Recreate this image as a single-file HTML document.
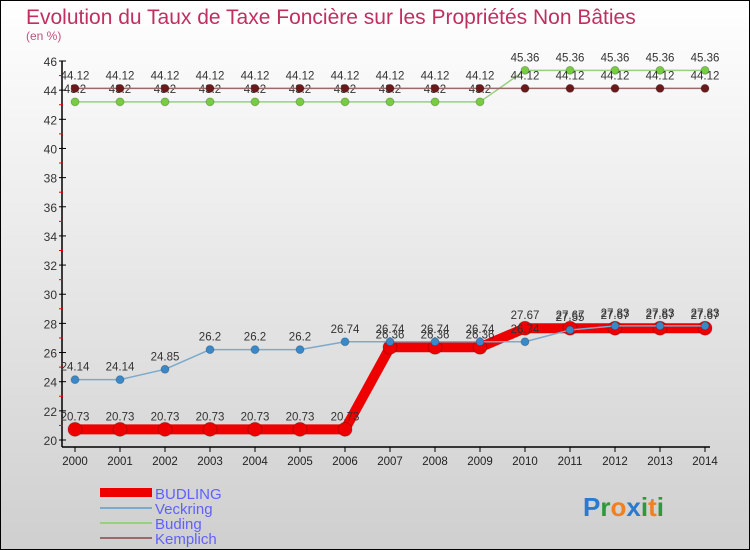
<!DOCTYPE html>
<html><head><meta charset="utf-8"><style>
body{margin:0;}
svg{display:block;font-family:"Liberation Sans",sans-serif;}
</style></head><body>
<svg id="c" width="750" height="550" xmlns="http://www.w3.org/2000/svg">
<defs><linearGradient id="bg" x1="0" y1="0" x2="0" y2="1"><stop offset="0" stop-color="#ffffff"/><stop offset="1" stop-color="#cfcfcf"/></linearGradient></defs>
<rect x="0" y="0" width="750" height="550" fill="url(#bg)" stroke="#000" stroke-width="2"/>
<text x="26" y="24" font-size="21" fill="#c0305e">Evolution du Taux de Taxe Foncière sur les Propriétés Non Bâties</text>
<text x="26" y="40" font-size="12" fill="#c0507e">(en %)</text>
<g id="axes"></g><g id="series"></g>
<g>
<rect x="100" y="488" width="52" height="9" fill="#e00"/>
<text x="155" y="499" font-size="15" fill="#6060ff">BUDLING</text>
<line x1="100" y1="508" x2="152" y2="508" stroke="#7aaacc" stroke-width="2"/>
<text x="155" y="514" font-size="15" fill="#6060ff">Veckring</text>
<line x1="100" y1="523" x2="152" y2="523" stroke="#99d080" stroke-width="2"/>
<text x="155" y="529" font-size="15" fill="#6060ff">Buding</text>
<line x1="100" y1="538" x2="152" y2="538" stroke="#9a6a6a" stroke-width="2"/>
<text x="155" y="544" font-size="15" fill="#6060ff">Kemplich</text>
</g>
<text x="583" y="516" font-size="26" font-weight="bold"><tspan fill="#2a7ad0">P</tspan><tspan fill="#2a9a3a">r</tspan><tspan fill="#f08020">o</tspan><tspan fill="#2a7ad0">x</tspan><tspan fill="#2a9a3a">i</tspan><tspan fill="#f08020">t</tspan><tspan fill="#2a9a3a">i</tspan></text>
</svg>
<script>
const years=[2000,2001,2002,2003,2004,2005,2006,2007,2008,2009,2010,2011,2012,2013,2014];
const budling=[20.73,20.73,20.73,20.73,20.73,20.73,20.73,26.36,26.36,26.36,27.67,27.67,27.67,27.67,27.67];
const veckring=[24.14,24.14,24.85,26.2,26.2,26.2,26.74,26.74,26.74,26.74,26.74,27.55,27.83,27.83,27.83];
const buding=[43.2,43.2,43.2,43.2,43.2,43.2,43.2,43.2,43.2,43.2,45.36,45.36,45.36,45.36,45.36];
const kemplich=[44.12,44.12,44.12,44.12,44.12,44.12,44.12,44.12,44.12,44.12,44.12,44.12,44.12,44.12,44.12];
const yTicks=[20,22,24,26,28,30,32,34,36,38,40,42,44,46];
const NS="http://www.w3.org/2000/svg";
const x=i=>75+i*45;
const y=v=>440-(v-20)*(379/26);
function mk(p,t,a){const e=document.createElementNS(NS,t);for(const k in a)e.setAttribute(k,a[k]);p.appendChild(e);return e;}
const ax=document.getElementById('axes');
let l=mk(ax,'line',{x1:62,y1:61,x2:62,y2:447,stroke:'#000','stroke-width':1.5});


l=mk(ax,'line',{x1:62,y1:447,x2:710,y2:447,stroke:'#000','stroke-width':1.5});


yTicks.forEach(v=>{
 mk(ax,'line',{x1:59,y1:y(v),x2:66,y2:y(v),stroke:'#000'});
 if(v<46)mk(ax,'line',{x1:59,y1:y(v+1),x2:63,y2:y(v+1),stroke:'#e00'});
 const t=mk(ax,'text',{x:57,y:y(v)+5,'font-size':12,fill:'#333','text-anchor':'end'});
 t.textContent=v;
 
 
});
years.forEach((yr,i)=>{
 mk(ax,'line',{x1:x(i),y1:447,x2:x(i),y2:452,stroke:'#000'});
 const t=mk(ax,'text',{x:x(i),y:465,'font-size':11.5,fill:'#222','text-anchor':'middle'});
 t.textContent=yr;
 
 
});
const sg=document.getElementById('series');
function series(name,vals,color,w,r,dot,lblColor){
 const g=mk(sg,'g',{});
 
 
 const pl=mk(g,'polyline',{points:vals.map((v,i)=>x(i)+','+y(v)).join(' '),fill:'none',stroke:color,'stroke-width':w,'stroke-linejoin':'round'});
 
 
 vals.forEach((v,i)=>{
  const c=mk(g,'circle',{cx:x(i),cy:y(v),r:r,fill:dot,stroke:'#0003'});
  
  
  const t=mk(g,'text',{x:x(i),y:y(v)-9,'font-size':11.5,fill:'#333','text-anchor':'middle'});
  t.textContent=v;
  
  
 });
}
series('budling',budling,'#ee0000',10,7,'#ee0000');
series('veckring',veckring,'#7aaacc',1.5,4,'#3a88c8');
series('buding',buding,'#99d080',1.5,4,'#77cc44');
series('kemplich',kemplich,'#9a6a6a',1.5,4,'#6a1a1a');
</script>
</body></html>
